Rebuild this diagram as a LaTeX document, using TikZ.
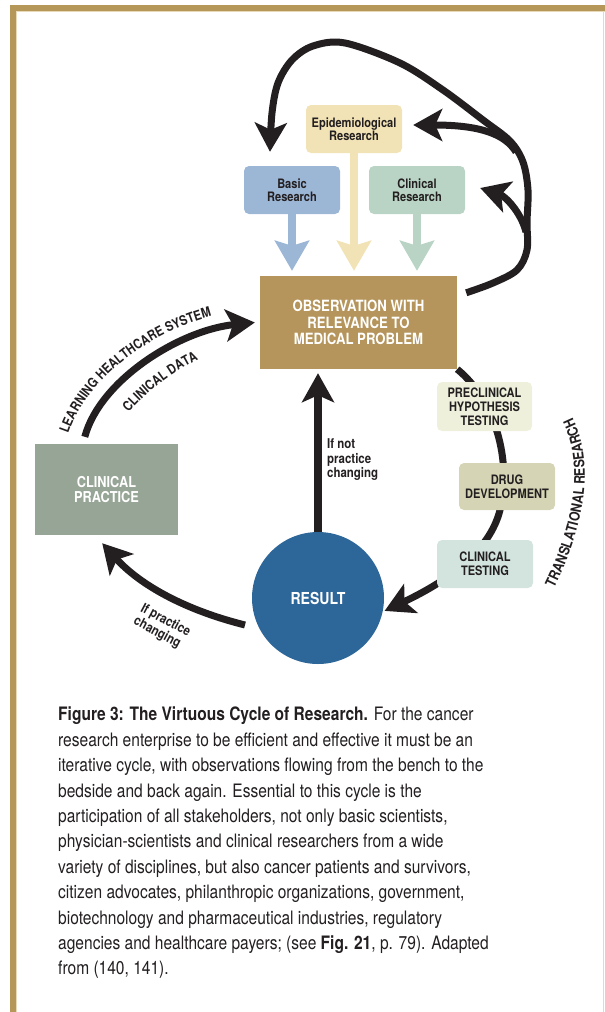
\documentclass[tikz,border=0pt]{standalone}
\usepackage{fontspec}
\setmainfont{TeX Gyre Heros}[FakeStretch=0.85]
\newfontfamily\capfont{TeX Gyre Heros}[FakeStretch=0.84]
\usetikzlibrary{arrows.meta,decorations.text,backgrounds,calc}
\definecolor{gold}{HTML}{B5975A}
\definecolor{goldlight}{HTML}{E8DAB8}
\definecolor{ink}{HTML}{231F20}
\definecolor{epic}{HTML}{F1E3B6}
\definecolor{basicc}{HTML}{9CB6D6}
\definecolor{clinresc}{HTML}{B9D4C4}
\definecolor{obsc}{HTML}{B5955B}
\definecolor{cpc}{HTML}{97A596}
\definecolor{resc}{HTML}{2D6699}
\definecolor{prec}{HTML}{EEF0DC}
\definecolor{drugc}{HTML}{D5D5B6}
\definecolor{ctestc}{HTML}{D3E4DE}
\begin{document}
\begin{tikzpicture}[x=1pt,y=-1pt,
  rbox/.style={rounded corners=5pt, inner sep=0pt, align=center, text=ink,
    font=\bfseries\fontsize{13}{13.5}\selectfont, minimum width=96pt, minimum height=48pt},
  tbox/.style={rounded corners=5pt, inner sep=0pt, align=center, text=ink,
    font=\bfseries\fontsize{13}{14}\selectfont},
  sqbox/.style={inner sep=0pt, align=center, text=white},
  carrow/.style={draw=#1, line width=8pt, shorten >=5pt, -{Stealth[length=30pt,width=34pt,inset=5pt]}},
  barrow/.style={draw=ink, line width=7pt, -{Stealth[length=29pt,width=32pt,inset=7pt]}},
  lbl/.style={text=ink, font=\bfseries\fontsize{13.5}{14.5}\selectfont, inner sep=0pt},
]
\useasboundingbox (0,0) rectangle (605,1012);
% frame
\fill[gold] (10,5) rectangle (605,10.5);
\fill[gold] (10,5) rectangle (15.5,1012);
\fill[goldlight] (15.5,10.5) rectangle (605,12);
\fill[goldlight] (15.5,10.5) rectangle (17,1012);
\fill[goldlight] (602.5,12) rectangle (604,1012);

% nodes
\node[rbox, fill=epic] (epi) at (354,129) {Epidemiological\\Research};
\node[rbox, fill=basicc] (basic) at (292,190) {Basic\\Research};
\node[rbox, fill=clinresc] (clinres) at (417,190) {Clinical\\Research};
\node[sqbox, fill=obsc, minimum width=197pt, minimum height=93pt,
  font=\bfseries\fontsize{15.5}{16.7}\selectfont] (obs) at (358.5,322.5)
  {OBSERVATION WITH\\RELEVANCE TO\\MEDICAL PROBLEM};
\node[sqbox, fill=cpc, minimum width=143pt, minimum height=91pt,
  font=\bfseries\fontsize{15}{15.5}\selectfont] (cp) at (106.5,489.5) {CLINICAL\\PRACTICE};
\node[circle, fill=resc, minimum size=132pt, inner sep=0pt, text=white,
  font=\bfseries\fontsize{16.5}{18}\selectfont] (result) at (318,598) {RESULT};
\node[tbox, fill=prec, minimum width=95pt, minimum height=49pt] (pre) at (484.5,406.5)
  {PRECLINICAL\\HYPOTHESIS\\TESTING};
\node[tbox, fill=drugc, minimum width=96pt, minimum height=47pt] (drug) at (507,486.5)
  {DRUG\\DEVELOPMENT};
\node[tbox, fill=ctestc, minimum width=96pt, minimum height=48pt] (ctest) at (485,564)
  {CLINICAL\\TESTING};

% coloured arrows into observation
\draw[carrow=basicc] (basic.south) -- (basic.south |- obs.north);
\draw[carrow=epic] (epi.south) -- (epi.south |- obs.north);
\draw[carrow=clinresc] (clinres.south) -- (clinres.south |- obs.north);

% feedback loop
\coordinate (loopstart) at ($(obs.north east)+(9,17)$);
\coordinate (basictip) at ($(basic.north)+(-22,-14)$);
\coordinate (epitip) at ($(epi.east)+(11,-4)$);
\coordinate (clintip) at ($(clinres.east)+(15,-2)$);
\draw[barrow] plot[smooth, tension=0.55] coordinates {(loopstart) (493,283) (517,270) (527,250) (527,222) (528,190) (523,162) (510,141) (483,120) (443,90) (400,63) (345,43) (313,46) (292,60) (278,83) (272,113) (basictip)};
\draw[barrow] (516,152) .. controls (505,134) and (480,125) .. (epitip);
\draw[barrow] (526,232) .. controls (521,212) and (505,196) .. (clintip);

% learning healthcare system arrow
\coordinate (lstart) at ($(cp.north west)+(50,-7)$);
\draw[barrow, shorten >=5pt] (lstart) .. controls (100,380) and (180,330) .. (obs.west |- 0,322);
\path[decorate, decoration={text along path, text align=center,
  text={|\bfseries\fontsize{13.5}{13.5}\selectfont\color{ink}|LEARNING HEALTHCARE SYSTEM}}]
  (66,442) .. controls (78,390) and (140,333) .. (220,314);
\path[decorate, decoration={text along path, text align=center,
  text={|\bfseries\fontsize{13.5}{13.5}\selectfont\color{ink}|CLINICAL DATA}}]
  (118,426) .. controls (140,396) and (170,371) .. (214,352);

% result -> observation
\draw[barrow, line width=7.5pt, shorten >=4pt] (result.north) -- (result.north |- obs.south);
\node[lbl, anchor=west, align=left] (notpc) at (327,460) {If not\\practice\\changing};

% result -> clinical practice
\coordinate (rcstart) at ($(result.center)+(-73,27)$);
\coordinate (cptip) at ($(cp.south east)+(-76,8)$);
\draw[barrow] (rcstart) .. controls (185,610) and (140,585) .. (cptip);
\node[lbl, rotate=-28, align=left] (ifpc) at (162,627) {If practice\\changing};

% translational research
\begin{scope}[on background layer]
\draw[barrow, shorten >=2pt] (obs.south east) .. controls (495,400) and (512,460) .. (500,510)
  .. controls (490,550) and (450,580) .. (result.-12);
\end{scope}
\path[decorate, decoration={text along path, text align=center,
  text={|\bfseries\fontsize{14.5}{14.5}\selectfont\color{ink}|TRANSLATIONAL RESEARCH}}]
  (550,596) .. controls (582,535) and (600,462) .. (568,410);

% caption
\node[anchor=north west, text=ink, align=left, inner sep=0pt,
  font=\capfont\fontsize{18.5}{25.4}\selectfont] (cap) at (58,707)
{\textbf{Figure 3: The Virtuous Cycle of Research.} For the cancer\\
research enterprise to be efficient and effective it must be an\\
iterative cycle, with observations flowing from the bench to the\\
bedside and back again. Essential to this cycle is the\\
participation of all stakeholders, not only basic scientists,\\
physician-scientists and clinical researchers from a wide\\
variety of disciplines, but also cancer patients and survivors,\\
citizen advocates, philanthropic organizations, government,\\
biotechnology and pharmaceutical industries, regulatory\\
agencies and healthcare payers; (see \textbf{Fig. 21}, p. 79). Adapted\\
from (140, 141).};
\end{tikzpicture}
\end{document}
